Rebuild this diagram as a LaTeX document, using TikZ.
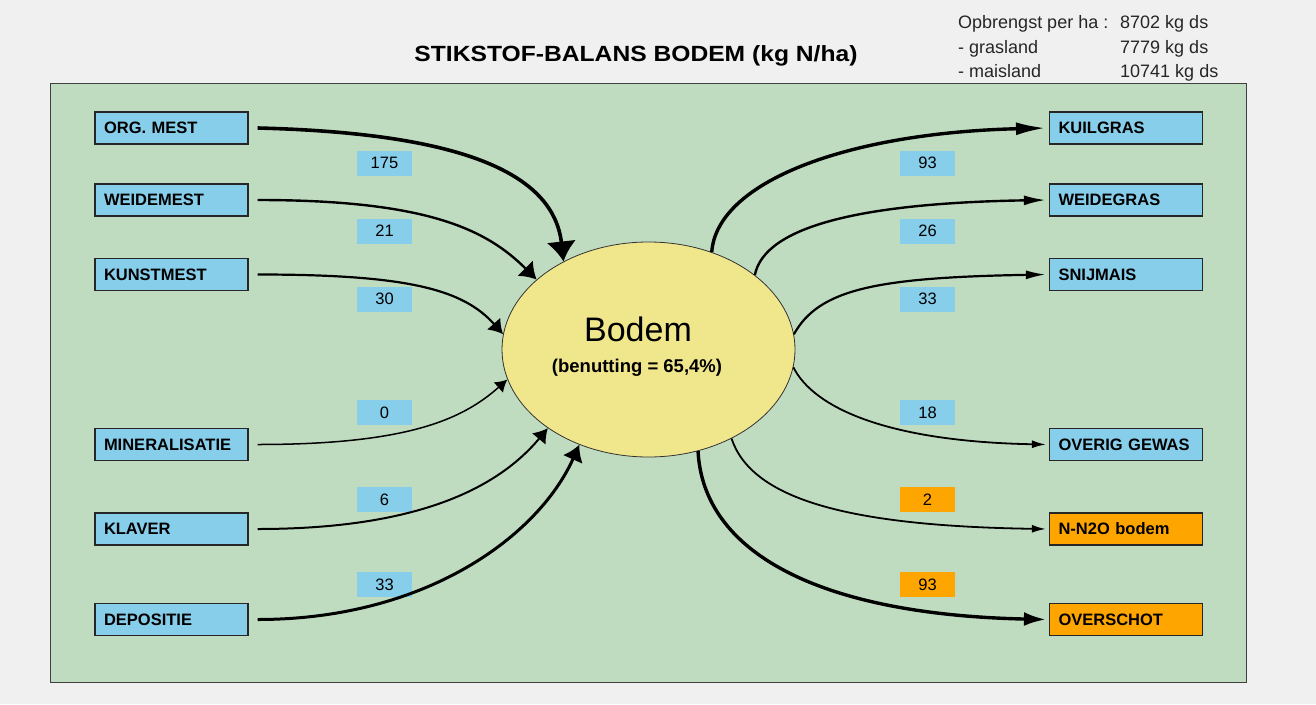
\documentclass[tikz,border=0pt]{standalone}
\usepackage{fontspec}
\setmainfont{Liberation Sans}
\usetikzlibrary{shapes.geometric,arrows.meta}
\definecolor{bgc}{HTML}{F0F0F0}
\definecolor{panelc}{HTML}{C0DCC0}
\definecolor{skyc}{HTML}{87CEEB}
\definecolor{orngc}{HTML}{FFA500}
\definecolor{khakic}{HTML}{F0E68C}
\begin{document}
\begin{tikzpicture}[x=1pt,y=-1pt,
  box/.style={draw=black!85,line width=1.2pt,fill=skyc,minimum height=32pt,text width=135pt,inner xsep=9pt,inner ysep=0pt,align=left,font=\fontsize{16.5}{18}\selectfont\bfseries},
  obox/.style={box,fill=orngc},
  val/.style={fill=skyc,minimum width=55pt,minimum height=25pt,inner sep=0pt,font=\fontsize{16.5}{18}\selectfont},
  oval/.style={val,fill=orngc},
  info/.style={anchor=base west,inner sep=0pt,font=\fontsize{18}{20}\selectfont,text=black!85},
  flow/.style={draw=black}
]
\useasboundingbox (0,0) rectangle (1316,704);
\fill[bgc] (0,0) rectangle (1316,704);
\draw[fill=panelc,draw=black!75,line width=1pt] (50,83) rectangle (1246,682);

% title and info
\node[font=\fontsize{22}{26}\selectfont\bfseries] (title) at (636,56) {\scalebox{1.12}[1]{STIKSTOF-BALANS BODEM (kg N/ha)}};
\node[info] (i1) at (958,28) {Opbrengst per ha :};
\node[info] (i2) at (1120,28) {8702 kg ds};
\node[info] (i3) at (958,53) {- grasland};
\node[info] (i4) at (1120,53) {7779 kg ds};
\node[info] (i5) at (958,77) {- maisland};
\node[info] (i6) at (1120,77) {10741 kg ds};

% centre
\node[ellipse,draw=black!80,line width=0.8pt,fill=khakic,minimum width=293pt,minimum height=215pt,inner sep=0pt] (bodem) at (648.5,349.5) {};
\node[anchor=base,inner sep=0pt,font=\fontsize{34}{36}\selectfont] (bt) at (638,341) {Bodem};
\node[anchor=base,inner sep=0pt,font=\fontsize{18.5}{20}\selectfont\bfseries] (bs) at (637,372) {(benutting = 65,4\%)};

% left boxes
\node[box] (orgmest) at (171.5,128) {ORG. MEST};
\node[box] (weidemest) at (171.5,200) {WEIDEMEST};
\node[box] (kunstmest) at (171.5,274.5) {KUNSTMEST};
\node[box] (mineral) at (171.5,444.5) {MINERALISATIE};
\node[box] (klaver) at (171.5,529) {KLAVER};
\node[box] (depositie) at (171.5,619.5) {DEPOSITIE};

% right boxes
\node[box] (kuilgras) at (1126,128) {KUILGRAS};
\node[box] (weidegras) at (1126,200) {WEIDEGRAS};
\node[box] (snijmais) at (1126,274.5) {SNIJMAIS};
\node[box] (overig) at (1126,444.5) {OVERIG GEWAS};
\node[obox] (nno) at (1126,529) {N-N2O bodem};
\node[obox] (overschot) at (1126,619.5) {OVERSCHOT};

% values
\node[val] (v1) at (384.5,163) {175};
\node[val] (v2) at (384.5,231) {21};
\node[val] (v3) at (384.5,299) {30};
\node[val] (v4) at (384.5,412.5) {0};
\node[val] (v5) at (384.5,499.5) {6};
\node[val] (v6) at (384.5,584.5) {33};
\node[val] (v7) at (927.5,163) {93};
\node[val] (v8) at (927.5,231) {26};
\node[val] (v9) at (927.5,299) {33};
\node[val] (v10) at (927.5,412.5) {18};
\node[oval] (v11) at (927.5,499.5) {2};
\node[oval] (v12) at (927.5,584.5) {93};

% inputs
\draw[flow,line width=3.6pt,-{Latex[length=20pt,width=30pt]}] ([xshift=9pt]orgmest.east) .. controls +(200,5) and +(-10,-90) .. (bodem.134);
\draw[flow,line width=2.4pt,-{Latex[length=16pt,width=22pt]}] ([xshift=9pt]weidemest.east) .. controls +(170,0) and +(-50,-50) .. (bodem.148);
\draw[flow,line width=2.2pt,-{Latex[length=14pt,width=18pt]}] ([xshift=9pt]kunstmest.east) .. controls +(150,0) and +(-40,-45) .. (bodem.174);
\draw[flow,line width=1.5pt,-{Latex[length=12pt,width=14pt]}] ([xshift=9pt]mineral.east) .. controls +(150,0) and +(-45,40) .. (bodem.192);
\draw[flow,line width=2pt,-{Latex[length=14pt,width=18pt]}] ([xshift=9pt]klaver.east) .. controls +(160,0) and +(-50,60) .. (bodem.218);
\draw[flow,line width=3pt,-{Latex[length=16pt,width=22pt]}] ([xshift=9pt]depositie.east) .. controls +(170,0) and +(-40,90) .. (bodem.234);

% outputs
\draw[flow,line width=3.4pt,-{Latex[length=30pt,width=13pt]}] (bodem.57) .. controls +(5,-70) and +(-200,5) .. ([xshift=-3pt]kuilgras.west);
\draw[flow,line width=2.4pt,-{Latex[length=22pt,width=10pt]}] (bodem.35) .. controls +(10,-50) and +(-180,3) .. ([xshift=-3pt]weidegras.west);
\draw[flow,line width=2.2pt,-{Latex[length=20pt,width=9pt]}] (bodem.6) .. controls +(25,-45) and +(-170,3) .. ([xshift=-3pt]snijmais.west);
\draw[flow,line width=1.8pt,-{Latex[length=14pt,width=8pt]}] (bodem.353) .. controls +(20,40) and +(-160,-3) .. ([xshift=-3pt]overig.west);
\draw[flow,line width=1.8pt,-{Latex[length=14pt,width=8pt]}] (bodem.313) .. controls +(20,60) and +(-200,-3) .. ([xshift=-3pt]nno.west);
\draw[flow,line width=3.4pt,-{Latex[length=22pt,width=14pt]}] (bodem.296) .. controls +(5,100) and +(-230,-5) .. ([xshift=-3pt]overschot.west);
\end{tikzpicture}
\end{document}
